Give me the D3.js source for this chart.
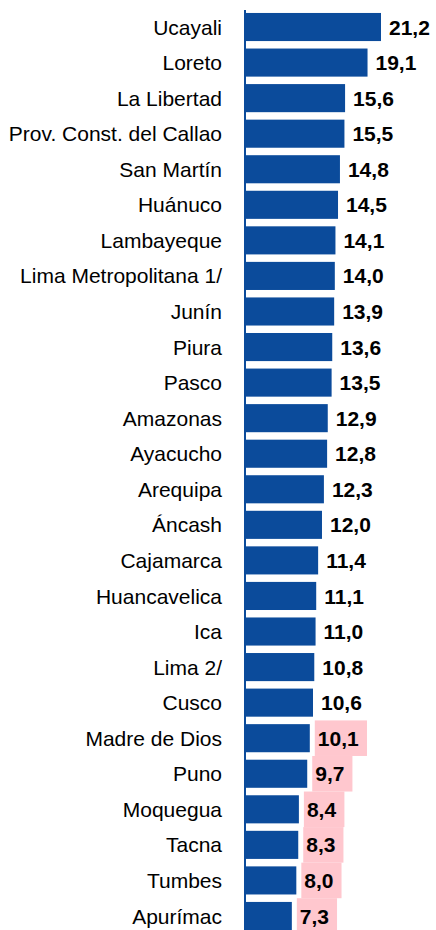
<!DOCTYPE html>
<html><head><meta charset="utf-8">
<script src="https://cdn.jsdelivr.net/npm/d3@7"></script>
<style>body{margin:0;background:#fff}svg{display:block}</style>
</head><body>
<script>
const categories = ["Ucayali","Loreto","La Libertad","Prov. Const. del Callao","San Martín","Huánuco","Lambayeque","Lima Metropolitana 1/","Junín","Piura","Pasco","Amazonas","Ayacucho","Arequipa","Áncash","Cajamarca","Huancavelica","Ica","Lima 2/","Cusco","Madre de Dios","Puno","Moquegua","Tacna","Tumbes","Apurímac"];
const values = [21.2,19.1,15.6,15.5,14.8,14.5,14.1,14.0,13.9,13.6,13.5,12.9,12.8,12.3,12.0,11.4,11.1,11.0,10.8,10.6,10.1,9.7,8.4,8.3,8.0,7.3];
const highlighted = ["Madre de Dios","Puno","Moquegua","Tacna","Tumbes","Apurímac"];

const W = 436, H = 930;
const FONT = "'Liberation Sans', Arial, sans-serif";
const svg = d3.select("body").append("svg").attr("width", W).attr("height", H);
const x0 = 245;
const x = d3.scaleLinear().domain([0, 21.2]).range([x0, 381]);
const y = d3.scaleBand().domain(categories).range([5.5, 937.5]).padding(0.21);
const fmt = v => d3.format(".1f")(v).replace(".", ",");
const data = categories.map((c, i) => ({c, v: values[i], h: highlighted.includes(c)}));
const cy = d => y(d.c) + y.bandwidth() / 2;

svg.selectAll("rect.bar").data(data).join("rect").attr("class","bar")
  .attr("x", x(0)).attr("y", d => y(d.c)).attr("width", d => x(d.v) - x(0))
  .attr("height", y.bandwidth()).attr("fill", "#0b4b9b");

svg.append("line").attr("x1", x0).attr("x2", x0).attr("y1", 10).attr("y2", 930)
  .attr("stroke", "#0b4b9b").attr("stroke-width", 2);

svg.selectAll("text.cat").data(data).join("text").attr("class","cat")
  .attr("x", 222).attr("y", cy).attr("dy","0.36em")
  .attr("text-anchor","end").attr("font-family", FONT)
  .attr("font-size", 21).attr("fill","#000").text(d => d.c);

const hlG = svg.append("g");
const vals = svg.selectAll("text.val").data(data).join("text").attr("class","val")
  .attr("x", d => x(d.v) + 8).attr("y", cy).attr("dy","0.36em")
  .attr("font-family", FONT).attr("font-weight","bold")
  .attr("font-size", 21).attr("fill","#000").text(d => fmt(d.v));

vals.filter(d => d.h).each(function(d) {
  const b = this.getBBox();
  hlG.append("rect").attr("x", b.x - 3).attr("y", cy(d) - y.step()/2)
    .attr("width", b.width + 11).attr("height", y.step()).attr("fill", "#ffc7ce");
});
</script>
</body></html>
